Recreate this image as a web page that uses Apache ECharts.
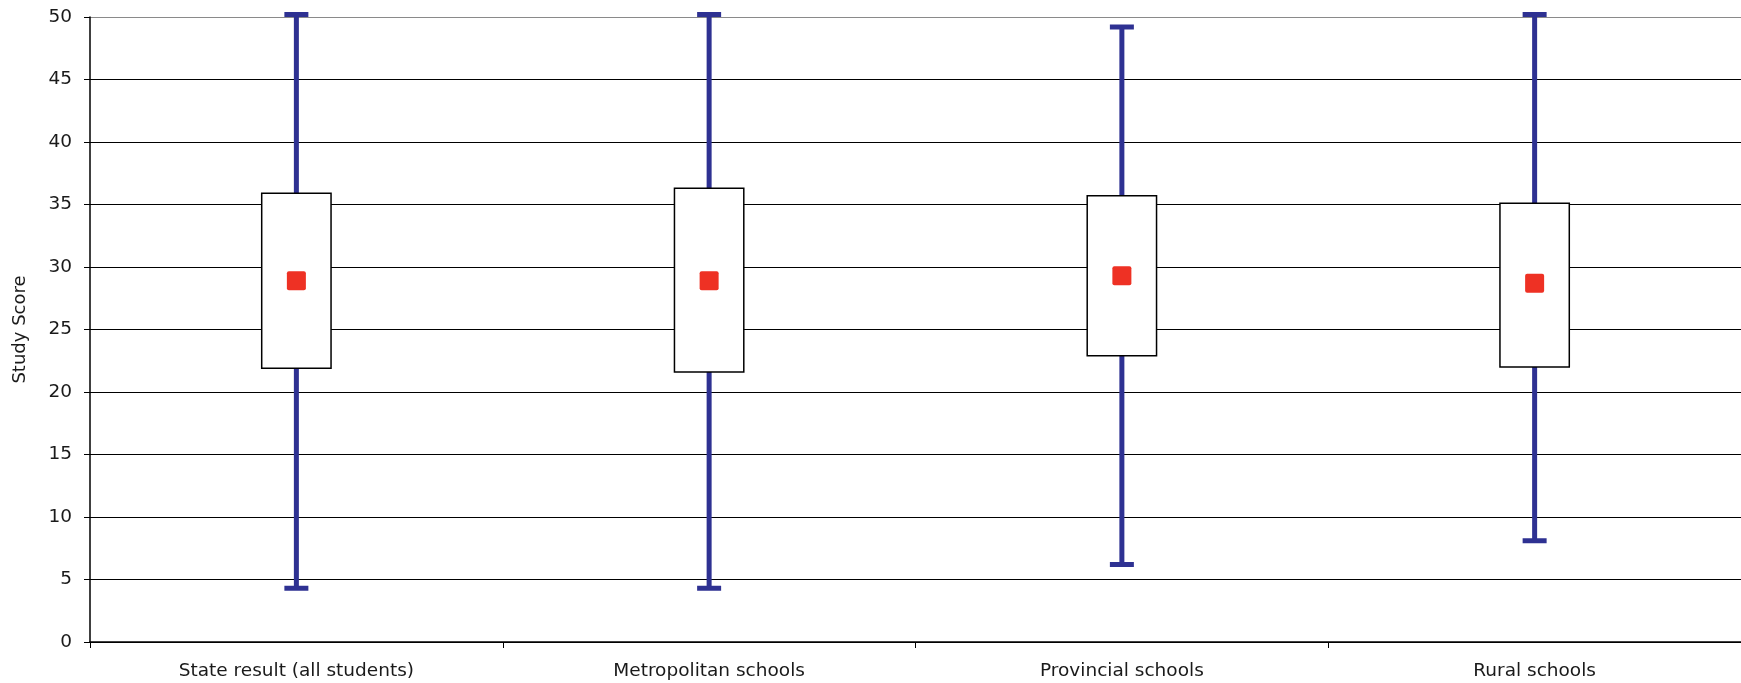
<!DOCTYPE html>
<html>
<head>
<meta charset="utf-8">
<title>Study Score by school type</title>
<script src="https://cdn.jsdelivr.net/npm/echarts@6/dist/echarts.min.js"></script>
<style>
  html, body { margin: 0; padding: 0; background: #fff; }
  #chart { width: 1741px; height: 683px; }
</style>
</head>
<body>
<div id="chart"></div>
<script>
// Score distribution per school group
const categories = ['State result (all students)', 'Metropolitan schools', 'Provincial schools', 'Rural schools'];
const lowValues  = [4.3, 4.3, 6.2, 8.1];
const q1Values   = [21.9, 21.6, 22.9, 22.0];
const meanValues = [28.9, 28.9, 29.3, 28.7];
const q3Values   = [35.9, 36.3, 35.7, 35.1];
const highValues = [50.2, 50.2, 49.2, 50.2];
const yTicks = [0, 5, 10, 15, 20, 25, 30, 35, 40, 45, 50];

const FONT = "'DejaVu Sans', 'Liberation Sans', sans-serif";
const TEXT = '#1a1a1a';
const WHISKER = '#2E3192';
const MEAN = '#EE3124';

const whiskerData = categories.map((c, i) => [i, lowValues[i], highValues[i]]);
const boxData = categories.map((c, i) => [i, q1Values[i], q3Values[i]]);
const meanData = categories.map((c, i) => [i, meanValues[i]]);

const chart = echarts.init(document.getElementById('chart'), null, { renderer: 'canvas' });

chart.setOption({
  animation: false,
  backgroundColor: '#fff',
  grid: { left: 90, right: -12, top: 17, bottom: 41, containLabel: false },
  xAxis: {
    type: 'category',
    data: categories,
    boundaryGap: true,
    axisLine: { lineStyle: { color: '#000', width: 1.5 } },
    axisTick: { show: true, length: 6, lineStyle: { color: '#000', width: 1 } },
    axisLabel: { color: TEXT, fontFamily: FONT, fontSize: 18.5, margin: 20 },
    splitLine: { show: false }
  },
  yAxis: {
    type: 'value',
    min: yTicks[0],
    max: yTicks[yTicks.length - 1],
    interval: 5,
    name: 'Study Score',
    nameLocation: 'middle',
    nameGap: 61,
    nameTextStyle: { color: TEXT, fontFamily: FONT, fontSize: 18 },
    axisLine: { show: true, lineStyle: { color: '#000', width: 1.5 } },
    axisTick: { show: true, length: 6, lineStyle: { color: '#000', width: 1 } },
    axisLabel: { color: TEXT, fontFamily: FONT, fontSize: 18.5, margin: 18 },
    splitLine: {
      show: true,
      lineStyle: {
        width: 1.2,
        color: yTicks.map((t, i) => i === yTicks.length - 1 ? '#8a8a8a' : '#000')
      }
    }
  },
  series: [
    {
      // high-low range with end caps
      type: 'custom',
      data: whiskerData,
      encode: { x: 0, y: [1, 2] },
      z: 2,
      renderItem: function (params, api) {
        const x = api.value(0);
        const lo = api.coord([x, api.value(1)]);
        const hi = api.coord([x, api.value(2)]);
        const half = 12;
        const style = { stroke: WHISKER, lineWidth: 5 };
        return {
          type: 'group',
          children: [
            { type: 'line', shape: { x1: lo[0], y1: lo[1], x2: hi[0], y2: hi[1] }, style: style },
            { type: 'line', shape: { x1: lo[0] - half, y1: lo[1], x2: lo[0] + half, y2: lo[1] }, style: style },
            { type: 'line', shape: { x1: hi[0] - half, y1: hi[1], x2: hi[0] + half, y2: hi[1] }, style: style }
          ]
        };
      }
    },
    {
      // interquartile box
      type: 'custom',
      data: boxData,
      encode: { x: 0, y: [1, 2] },
      z: 3,
      renderItem: function (params, api) {
        const x = api.value(0);
        const bottom = api.coord([x, api.value(1)]);
        const top = api.coord([x, api.value(2)]);
        const w = api.size([1, 0])[0] * 0.168;
        return {
          type: 'rect',
          shape: { x: top[0] - w / 2, y: top[1], width: w, height: bottom[1] - top[1] },
          style: { fill: '#fff', stroke: '#000', lineWidth: 1.5 }
        };
      }
    },
    {
      // mean marker
      type: 'custom',
      data: meanData,
      encode: { x: 0, y: 1 },
      z: 4,
      renderItem: function (params, api) {
        const p = api.coord([api.value(0), api.value(1)]);
        const s = 19;
        return {
          type: 'rect',
          shape: { x: p[0] - s / 2, y: p[1] - s / 2, width: s, height: s, r: 2 },
          style: { fill: MEAN, stroke: null }
        };
      }
    }
  ]
});
</script>
</body>
</html>
